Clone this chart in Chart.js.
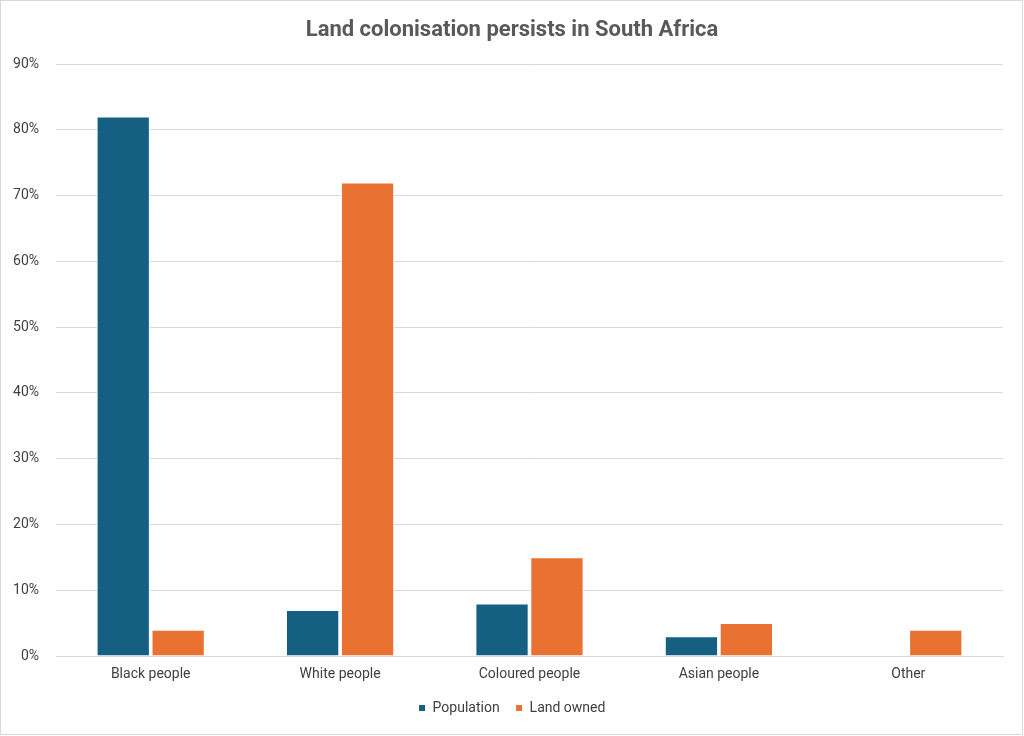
<!DOCTYPE html>
<html>
<head>
<meta charset="utf-8">
<script src="https://cdn.jsdelivr.net/npm/chart.js@4"></script>
<style>
  html, body { margin: 0; padding: 0; background: #fff; }
  #wrap { position: relative; width: 1024px; height: 736px; }
  #frame { position: absolute; left: 0; top: 0; width: 1023px; height: 735px; box-sizing: border-box; border: 1px solid #d9d9d9; pointer-events: none; }
  canvas { position: absolute; left: 0; top: 0; }
</style>
</head>
<body>
<div id="wrap">
  <canvas id="c" width="1024" height="736"></canvas>
  <div id="frame"></div>
</div>
<script>
const categories = ["Black people", "White people", "Coloured people", "Asian people", "Other"];
const population = [82, 7, 8, 3, 0];
const landOwned = [4, 72, 15, 5, 4];
const yTicks = [0, 10, 20, 30, 40, 50, 60, 70, 80, 90];

const FONT = "Roboto, 'Liberation Sans', sans-serif";

new Chart(document.getElementById('c'), {
  type: 'bar',
  data: {
    labels: categories,
    datasets: [
      { label: 'Population', data: population, backgroundColor: '#156082', borderColor: '#ffffff', borderWidth: 1 },
      { label: 'Land owned', data: landOwned, backgroundColor: '#E97132', borderColor: '#ffffff', borderWidth: 1 }
    ]
  },
  options: {
    responsive: false,
    animation: false,
    devicePixelRatio: 1,
    layout: { padding: { left: 0, right: 0, top: 0, bottom: 11 } },
    datasets: { bar: { categoryPercentage: 0.58, barPercentage: 0.97 } },
    plugins: {
      title: {
        display: true,
        text: 'Land colonisation persists in South Africa',
        color: '#595959',
        font: { family: FONT, size: 22, weight: 'bold' },
        padding: { top: 17, bottom: 20.6 }
      },
      legend: {
        position: 'bottom',
        labels: {
          color: '#404040',
          font: { family: FONT, size: 14 },
          boxWidth: 7,
          boxHeight: 7,
          padding: 16
        }
      },
      tooltip: { enabled: false }
    },
    scales: {
      x: {
        grid: { display: false, drawTicks: false },
        border: { display: true, color: '#d9d9d9', width: 1 },
        ticks: { color: '#404040', font: { family: FONT, size: 14 }, padding: 10, maxRotation: 0 },
        afterFit: s => { s.height = 29; }
      },
      y: {
        min: 0, max: 90,
        afterBuildTicks: s => { s.ticks = yTicks.map(v => ({ value: v })); },
        grid: { color: '#d9d9d9', drawTicks: false },
        border: { display: false },
        ticks: { color: '#404040', font: { family: FONT, size: 14 }, padding: 17, callback: v => v + '%' },
        afterFit: s => { s.width = 56; }
      },
      yRight: {
        position: 'right',
        display: true,
        min: 0, max: 90,
        grid: { display: false, drawTicks: false },
        border: { display: false },
        ticks: { display: false },
        afterFit: s => { s.width = 21; }
      }
    }
  }
});
</script>
</body>
</html>
